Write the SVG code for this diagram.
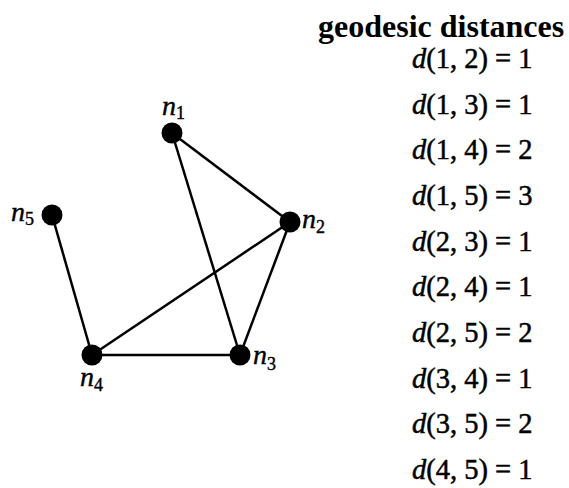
<svg xmlns="http://www.w3.org/2000/svg" width="569" height="488" viewBox="0 0 569 488">
<style>
.edge{stroke:#000;stroke-width:2.5;fill:none}
.node{fill:#000}
.lbl{font-family:"Liberation Serif",serif;font-style:italic;font-size:28px;fill:#000;stroke:#000;stroke-width:0.4}
.sub{font-size:18px;font-style:normal}
.title{font-family:"Liberation Serif",serif;font-weight:bold;font-size:32px;fill:#000}
.eq{font-family:"Liberation Serif",serif;font-size:28.5px;fill:#000;stroke:#000;stroke-width:0.5}
.eq .d{font-style:italic}
</style>
<rect width="569" height="488" fill="#fff"/>
<g id="connectors">
<line class="edge" x1="172" y1="133" x2="290" y2="222"/>
<line class="edge" x1="172" y1="133" x2="240" y2="355"/>
<line class="edge" x1="290" y1="222" x2="240" y2="355"/>
<line class="edge" x1="290" y1="222" x2="92" y2="355"/>
<line class="edge" x1="92" y1="355" x2="240" y2="355"/>
<line class="edge" x1="52" y1="215" x2="92" y2="355"/>
</g>
<g id="n1"><circle class="node" cx="172" cy="133" r="10.5"/><text class="lbl" x="162" y="115">n<tspan class="sub" dy="4">1</tspan></text></g>
<g id="n2"><circle class="node" cx="290" cy="222" r="10.5"/><text class="lbl" x="302" y="228">n<tspan class="sub" dy="5">2</tspan></text></g>
<g id="n3"><circle class="node" cx="240" cy="355" r="10.5"/><text class="lbl" x="253" y="364">n<tspan class="sub" dy="6">3</tspan></text></g>
<g id="n4"><circle class="node" cx="92" cy="355" r="10.5"/><text class="lbl" x="80" y="386">n<tspan class="sub" dy="5">4</tspan></text></g>
<g id="n5"><circle class="node" cx="52" cy="215" r="10.5"/><text class="lbl" x="11" y="221">n<tspan class="sub" dy="4">5</tspan></text></g>
<g id="distances">
<text class="title" x="318" y="37">geodesic distances</text>
<text class="eq" x="412" y="68"><tspan class="d">d</tspan>(1, 2) = 1</text>
<text class="eq" x="412" y="113.7"><tspan class="d">d</tspan>(1, 3) = 1</text>
<text class="eq" x="412" y="159.3"><tspan class="d">d</tspan>(1, 4) = 2</text>
<text class="eq" x="412" y="205"><tspan class="d">d</tspan>(1, 5) = 3</text>
<text class="eq" x="412" y="250.7"><tspan class="d">d</tspan>(2, 3) = 1</text>
<text class="eq" x="412" y="296.3"><tspan class="d">d</tspan>(2, 4) = 1</text>
<text class="eq" x="412" y="342"><tspan class="d">d</tspan>(2, 5) = 2</text>
<text class="eq" x="412" y="387.7"><tspan class="d">d</tspan>(3, 4) = 1</text>
<text class="eq" x="412" y="433.3"><tspan class="d">d</tspan>(3, 5) = 2</text>
<text class="eq" x="412" y="479"><tspan class="d">d</tspan>(4, 5) = 1</text>
</g>
</svg>
